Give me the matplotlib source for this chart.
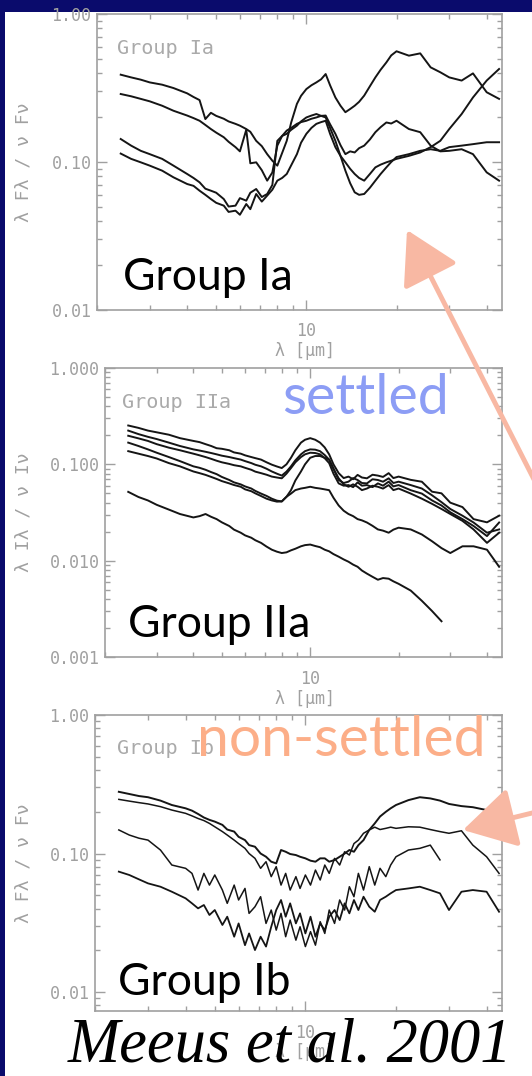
import matplotlib
matplotlib.use('Agg')
import matplotlib.pyplot as plt
from matplotlib.patches import Rectangle, FancyArrowPatch
from matplotlib.ticker import FixedLocator, FixedFormatter, LogLocator, NullFormatter

plt.rcParams['font.family'] = ['DejaVu Sans Mono', 'DejaVu Sans']

W, H = 532, 1076
NAVY = '#0a0b6c'
GREY = '#a0a0a0'
INK = '#151515'
SALMON = '#f8b8a3'


def fx(px):
    return px / W


def fy(py):
    return 1 - py / H


# wavelength grid (micron)
wl = [2.4, 2.6, 2.8, 3.0, 3.3, 3.6, 4.0, 4.2, 4.4, 4.6, 4.8, 5.0, 5.3, 5.5, 5.8, 6.0, 6.3,
      6.5, 6.8, 7.1, 7.4, 7.7, 8.0, 8.3, 8.6, 8.9, 9.3, 9.6, 10.0, 10.4, 10.8, 11.2, 11.6,
      12.0, 12.5, 13.0, 13.5, 14.0, 14.5, 15.0, 15.6, 16.3, 17.0, 17.7, 18.5, 19.2, 20.0,
      22.0, 24.0, 26.0, 28.0, 30.0, 33.0, 36.0, 40.0, 44.0]

# Group Ia  (lambda F_lambda / nu F_nu)
ia_1 = [0.389, 0.373, 0.360, 0.345, 0.333, 0.316, 0.291, 0.275, 0.262, 0.195, 0.215, 0.205,
        0.196, 0.188, 0.181, 0.176, 0.167, 0.160, 0.139, 0.128, 0.113, 0.102, 0.0945, 0.115,
        0.139, 0.185, 0.247, 0.280, 0.311, 0.330, 0.345, 0.362, 0.393, 0.330, 0.273, 0.240,
        0.217, 0.228, 0.240, 0.255, 0.281, 0.325, 0.373, 0.420, 0.471, 0.525, 0.560, 0.523,
        0.542, 0.436, 0.404, 0.373, 0.355, 0.397, 0.296, 0.267]
ia_2 = [0.288, 0.278, 0.267, 0.257, 0.240, 0.222, 0.206, 0.198, 0.190, 0.178, 0.167, 0.158,
        0.147, 0.137, 0.126, 0.118, 0.165, 0.098, 0.0995, 0.088, 0.0748, 0.085, 0.129, 0.150,
        0.163, 0.170, 0.181, 0.186, 0.190, 0.196, 0.200, 0.205, 0.206, 0.180, 0.155, 0.130,
        0.113, 0.118, 0.116, 0.124, 0.129, 0.142, 0.159, 0.172, 0.185, 0.182, 0.190, 0.167,
        0.159, 0.129, 0.118, 0.119, 0.122, 0.113, 0.0851, 0.0748]
ia_3 = [0.143, 0.129, 0.119, 0.113, 0.105, 0.0945, 0.083, 0.078, 0.0729, 0.0660, 0.0640,
        0.0620, 0.0562, 0.0500, 0.0507, 0.0570, 0.0548, 0.0620, 0.0657, 0.0580, 0.0608,
        0.0700, 0.139, 0.150, 0.155, 0.165, 0.176, 0.188, 0.200, 0.206, 0.211, 0.205, 0.200,
        0.170, 0.139, 0.110, 0.0874, 0.0720, 0.0624, 0.0600, 0.0608, 0.0670, 0.0748, 0.083,
        0.092, 0.100, 0.108, 0.113, 0.119, 0.122, 0.119, 0.126, 0.129, 0.132, 0.136, 0.136]
ia_4 = [0.114, 0.105, 0.0995, 0.0945, 0.0874, 0.0788, 0.0710, 0.0690, 0.0640, 0.0600, 0.0562,
        0.0530, 0.0507, 0.0460, 0.0469, 0.0440, 0.0520, 0.0480, 0.0608, 0.0540, 0.0593,
        0.0650, 0.0748, 0.078, 0.083, 0.095, 0.113, 0.135, 0.155, 0.170, 0.181, 0.186, 0.190,
        0.155, 0.126, 0.110, 0.0995, 0.090, 0.083, 0.078, 0.0748, 0.083, 0.092, 0.096, 0.0995,
        0.102, 0.105, 0.110, 0.116, 0.126, 0.139, 0.167, 0.211, 0.273, 0.355, 0.425]

# Group IIa  (lambda I_lambda / nu I_nu)
iia_1 = [0.253, 0.239, 0.224, 0.215, 0.203, 0.187, 0.175, 0.170, 0.162, 0.155, 0.147, 0.145,
         0.140, 0.133, 0.129, 0.124, 0.119, 0.116, 0.112, 0.105, 0.0992, 0.095, 0.0915, 0.100,
         0.117, 0.140, 0.168, 0.180, 0.187, 0.180, 0.168, 0.150, 0.127, 0.100, 0.0810, 0.0720,
         0.0746, 0.0700, 0.0777, 0.0730, 0.0716, 0.0780, 0.0764, 0.0740, 0.0810, 0.0720,
         0.0746, 0.0690, 0.0660, 0.0520, 0.0500, 0.0400, 0.0360, 0.0270, 0.0250, 0.0293]
iia_2 = [0.224, 0.206, 0.193, 0.183, 0.168, 0.155, 0.143, 0.139, 0.135, 0.131, 0.127, 0.123,
         0.119, 0.116, 0.112, 0.108, 0.103, 0.099, 0.0953, 0.090, 0.0843, 0.080, 0.0764,
         0.084, 0.0953, 0.110, 0.127, 0.137, 0.143, 0.142, 0.137, 0.125, 0.112, 0.090, 0.0688,
         0.0640, 0.0661, 0.0720, 0.0688, 0.0640, 0.0634, 0.0700, 0.0688, 0.0660, 0.0716,
         0.0640, 0.0661, 0.0609, 0.0561, 0.0477, 0.0405, 0.0344, 0.0293, 0.0249, 0.0195,
         0.0211]
iia_3 = [0.198, 0.186, 0.175, 0.162, 0.149, 0.140, 0.129, 0.124, 0.119, 0.114, 0.109, 0.105,
         0.101, 0.098, 0.0953, 0.092, 0.0878, 0.084, 0.0810, 0.078, 0.0746, 0.073, 0.0716,
         0.080, 0.0915, 0.105, 0.119, 0.127, 0.132, 0.131, 0.127, 0.116, 0.103, 0.080, 0.0634,
         0.0600, 0.0609, 0.0580, 0.065, 0.0600, 0.0609, 0.0580, 0.0634, 0.0600, 0.0661,
         0.0590, 0.0609, 0.0539, 0.0497, 0.0422, 0.0374, 0.0318, 0.0270, 0.0229, 0.0180,
         0.0249]
iia_4 = [0.168, 0.155, 0.143, 0.132, 0.119, 0.108, 0.0953, 0.092, 0.0878, 0.083, 0.0791,
         0.074, 0.0688, 0.065, 0.0619, 0.059, 0.0561, 0.053, 0.0497, 0.047, 0.0440, 0.042,
         0.0412, 0.046, 0.0539, 0.068, 0.0843, 0.100, 0.117, 0.122, 0.122, 0.117, 0.112,
         0.090, 0.0716, 0.0620, 0.0585, 0.0620, 0.0585, 0.0540, 0.0561, 0.0600, 0.0585,
         0.0560, 0.0609, 0.0540, 0.0561, 0.0497, 0.0440, 0.0389, 0.0344, 0.0305, 0.0259,
         0.0211, 0.0153, 0.0195]
iia_5 = [0.137, 0.129, 0.122, 0.115, 0.103, 0.0953, 0.0843, 0.081, 0.0777, 0.074, 0.0705,
         0.067, 0.0634, 0.061, 0.0585, 0.055, 0.0526, 0.050, 0.0469, 0.044, 0.0422, 0.041,
         0.0412, 0.046, 0.0497, 0.054, 0.0561, 0.057, 0.0585, 0.057, 0.0561, 0.055, 0.0539,
         0.045, 0.0374, 0.0330, 0.0305, 0.0290, 0.0270, 0.0262, 0.0249, 0.0230, 0.0211,
         0.0205, 0.0195, 0.0210, 0.0220, 0.0211, 0.0187, 0.0159, 0.0135, 0.0120, 0.0141,
         0.0141, 0.0130, 0.00864]
iia_6 = [0.0518, 0.0458, 0.0422, 0.0380, 0.0339, 0.0305, 0.0281, 0.0290, 0.0305, 0.0285,
         0.0270, 0.0250, 0.0229, 0.0210, 0.0195, 0.0183, 0.0173, 0.0163, 0.0153, 0.0140,
         0.0130, 0.0124, 0.0120, 0.0122, 0.0128, 0.0133, 0.0141, 0.0145, 0.0147, 0.0142,
         0.0138, 0.0130, 0.0125, 0.0117, 0.0110, 0.0103, 0.00975, 0.0091, 0.00864, 0.0079,
         0.00734, 0.0068, 0.00634, 0.0066, 0.00650, 0.0061, 0.00575, 0.00489, 0.00383,
         0.00300, 0.00235]

# Group Ib
ib_1 = [0.279, 0.269, 0.260, 0.255, 0.241, 0.224, 0.212, 0.204, 0.193, 0.182, 0.175, 0.170,
        0.161, 0.149, 0.144, 0.132, 0.125, 0.115, 0.112, 0.100, 0.0948, 0.0873, 0.0849, 0.106,
        0.103, 0.0992, 0.0975, 0.0948, 0.0923, 0.0888, 0.0873, 0.0923, 0.0923, 0.0873, 0.0898,
        0.0948, 0.100, 0.106, 0.103, 0.115, 0.125, 0.148, 0.165, 0.185, 0.200, 0.212, 0.224,
        0.243, 0.255, 0.250, 0.241, 0.228, 0.220, 0.216, 0.206, 0.190]
ib_2 = [0.246, 0.239, 0.233, 0.228, 0.218, 0.206, 0.195, 0.187, 0.179, 0.173, 0.165, 0.156,
        0.144, 0.136, 0.125, 0.118, 0.109, 0.100, 0.0923, 0.0782, 0.0873, 0.0681, 0.0804,
        0.0592, 0.0719, 0.0545, 0.0681, 0.0560, 0.0700, 0.0592, 0.0760, 0.0644, 0.0826,
        0.0719, 0.0923, 0.0826, 0.103, 0.0975, 0.118, 0.125, 0.140, 0.148, 0.155, 0.149,
        0.152, 0.155, 0.152, 0.156, 0.155, 0.149, 0.144, 0.140, 0.146, 0.115, 0.0948, 0.0719]
ib_3 = [0.148, 0.136, 0.129, 0.125, 0.106, 0.0826, 0.0782, 0.0719, 0.0545, 0.0719, 0.0592,
        0.0700, 0.0545, 0.0437, 0.0592, 0.0462, 0.0560, 0.0370, 0.0413, 0.0488, 0.0313,
        0.0391, 0.0280, 0.0370, 0.0251, 0.0331, 0.0237, 0.0296, 0.0213, 0.0273, 0.0218,
        0.0322, 0.0265, 0.0391, 0.0313, 0.0462, 0.0391, 0.0576, 0.0488, 0.0719, 0.0545,
        0.0804, 0.0592, 0.0782, 0.0681, 0.0826, 0.0948, 0.106, 0.109, 0.115, 0.090]
ib_4 = [0.0740, 0.0700, 0.0651, 0.0609, 0.0576, 0.0530, 0.0475, 0.0437, 0.0402, 0.0425, 0.0360,
        0.0391, 0.0305, 0.0350, 0.0251, 0.0313, 0.0218, 0.0265, 0.0201, 0.0251, 0.0213, 0.0296,
        0.0391, 0.0462, 0.0350, 0.0437, 0.0313, 0.0370, 0.0265, 0.0350, 0.0251, 0.0313, 0.0280,
        0.0350, 0.0391, 0.0331, 0.0437, 0.0370, 0.0462, 0.0391, 0.0488, 0.0413, 0.0380, 0.0462,
        0.0488, 0.0516, 0.0545, 0.0560, 0.0576, 0.0545, 0.0516, 0.0391, 0.0530, 0.0545, 0.0530,
        0.0380]


def panel(box, ylim, yticks, ylabels):
    ax = fig.add_axes(box)
    ax.set_xscale('log')
    ax.set_yscale('log')
    ax.set_xlim(2, 45)
    ax.set_ylim(*ylim)
    ax.xaxis.set_major_locator(FixedLocator([10]))
    ax.xaxis.set_major_formatter(FixedFormatter(['10']))
    ax.xaxis.set_minor_locator(LogLocator(subs=range(2, 10), numticks=20))
    ax.xaxis.set_minor_formatter(NullFormatter())
    ax.yaxis.set_major_locator(FixedLocator(yticks))
    ax.yaxis.set_major_formatter(FixedFormatter(ylabels))
    ax.yaxis.set_minor_locator(LogLocator(subs=range(2, 10), numticks=20))
    ax.yaxis.set_minor_formatter(NullFormatter())
    ax.tick_params(which='both', direction='in', top=True, right=True, color=GREY,
                   labelcolor=GREY, labelsize=12, width=1)
    ax.tick_params(which='major', length=7)
    ax.tick_params(which='minor', length=3.5)
    ax.tick_params(axis='x', pad=9)
    ax.tick_params(axis='y', pad=4)
    for s in ax.spines.values():
        s.set_color(GREY)
        s.set_linewidth(1.2)
    return ax


fig = plt.figure(figsize=(W / 100, H / 100), dpi=100)
fig.patch.set_facecolor(NAVY)
fig.add_artist(Rectangle((fx(5), 0), 1 - fx(5), fy(12), transform=fig.transFigure,
                         facecolor='white', edgecolor='none', zorder=-1))

ax1 = panel([fx(97), fy(310), fx(502) - fx(97), fy(14) - fy(310)], (0.01, 1.0),
            [0.01, 0.1, 1.0], ['0.01', '0.10', '1.00'])
for s in [ia_1, ia_2, ia_3, ia_4]:
    ax1.plot(wl, s, color=INK, lw=1.4)

ax2 = panel([fx(105), fy(657), fx(502) - fx(105), fy(368) - fy(657)], (0.001, 1.0),
            [0.001, 0.01, 0.1, 1.0], ['0.001', '0.010', '0.100', '1.000'])
for s in [iia_1, iia_2, iia_3, iia_4, iia_5]:
    ax2.plot(wl, s, color=INK, lw=1.4)
ax2.plot(wl[:len(iia_6)], iia_6, color=INK, lw=1.4)

ax3 = panel([fx(95), fy(1011), fx(502) - fx(95), fy(715) - fy(1011)], (0.0073, 1.0),
            [0.01, 0.1, 1.0], ['0.01', '0.10', '1.00'])
ax3.plot(wl, ib_1, color=INK, lw=1.4)
ax3.plot(wl, ib_2, color=INK, lw=1.1)
ax3.plot(wl[:len(ib_3)], ib_3, color=INK, lw=1.1)
ax3.plot(wl, ib_4, color=INK, lw=1.3)

# IDL style labels
for yc, lab in [(162, 'λ Fλ / ν Fν'), (512, 'λ Iλ / ν Iν'), (863, 'λ Fλ / ν Fν')]:
    fig.text(fx(24), fy(yc), lab, rotation=90, ha='center', va='center', color=GREY, fontsize=13)
for xc, yc in [(305, 351), (305, 699), (305, 1052)]:
    fig.text(fx(xc), fy(yc), 'λ [μm]', ha='center', va='center', color=GREY, fontsize=12)
for x0, yb, lab in [(117, 54, 'Group Ia'), (122, 408, 'Group IIa'), (117, 754, 'Group Ib')]:
    fig.text(fx(x0), fy(yb), lab, ha='left', va='baseline', color='#aaaaaa', fontsize=14.5)

# slide annotations
big = dict(family=['Lato', 'DejaVu Sans'], ha='left', va='baseline')
fig.text(fx(123), fy(290), 'Group Ia', color='black', fontsize=32, **big)
fig.text(fx(128), fy(637), 'Group IIa', color='black', fontsize=32, **big)
fig.text(fx(118), fy(995), 'Group Ib', color='black', fontsize=32, **big)
fig.text(fx(282), fy(414), 'settled', color='#8c9df5', fontsize=40, **big)
fig.text(fx(197), fy(756), 'non-settled', color='#fcae88', fontsize=41, **big)
fig.text(fx(68), fy(1062), 'Meeus et al. 2001', family=['Liberation Serif', 'DejaVu Serif'],
         style='italic', color='black', fontsize=45, ha='left', va='baseline')

for tail, tip in [((575, 560), (407, 230)), ((585, 800), (463, 830))]:
    fig.add_artist(FancyArrowPatch((fx(tail[0]), fy(tail[1])), (fx(tip[0]), fy(tip[1])),
                                   transform=fig.transFigure,
                                   arrowstyle='-|>,head_length=1.3,head_width=0.75',
                                   mutation_scale=25, color=SALMON, lw=3.5, shrinkA=0, shrinkB=0,
                                   zorder=6))

fig.savefig('out.png', dpi=100, facecolor=fig.get_facecolor())
